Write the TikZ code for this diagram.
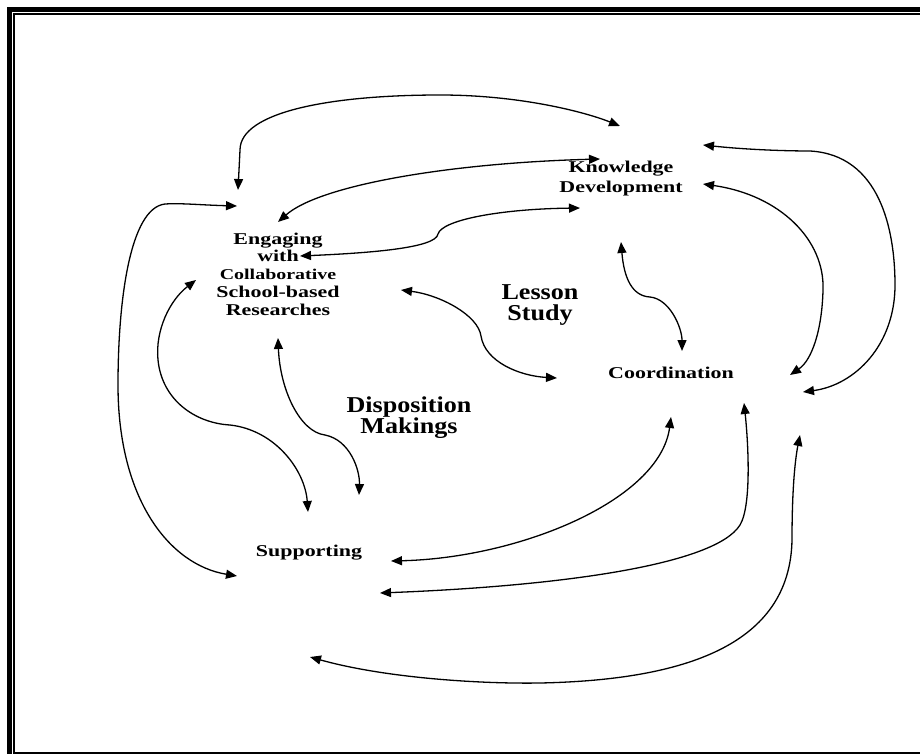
\documentclass[tikz,border=0pt]{standalone}
\usepackage{fontspec}
\usepackage{tikz}
\usetikzlibrary{arrows.meta}
\newfontfamily\nodefont[FakeStretch=1.33]{Liberation Serif}
\newfontfamily\tagfont[FakeStretch=1.15]{Liberation Serif}

\begin{document}
\begin{tikzpicture}[x=1pt,y=-1pt,
    >={Triangle[length=11pt,width=9pt]},
    actor/.style={align=center,inner sep=0pt,font=\nodefont\bfseries\fontsize{16.5}{17.7}\selectfont},
    theme/.style={align=center,inner sep=0pt,font=\tagfont\bfseries\fontsize{22.7}{21}\selectfont},
    link/.style={<->,line width=1.3pt}]
  \useasboundingbox (0,0) rectangle (920,754);
  \draw[line width=5pt] (9.2,754) |- (920,9.2);
  \draw[line width=2pt] (920,752.8) -| (14.3,14.3) -- (920,14.3);

  \node[actor,font=\nodefont\bfseries\fontsize{16.5}{20}\selectfont] (kd) at (621,179) {Knowledge\\Development};
  \node[actor] (eng) at (278,274) {Engaging\\with\\{\fontsize{15}{17.7}\selectfont Collaborative}\\School-based\\Researches};
  \node[actor] (co) at (671,373) {Coordination};
  \node[actor] (sup) at (309,553) {Supporting};
  \node[theme] (ls) at (540,305) {Lesson\\Study};
  \node[theme] (dm) at (409,418) {Disposition\\Makings};

  \draw[link] ([shift={(-40,-84)}]eng.center) -- (240,150) .. controls (240,112) and (330,95) .. (440,95) .. controls (520,95) and (585,112) .. ([shift={(-1,-53)}]kd.center);
  \draw[link] ([shift={(0,-52)}]eng.center) .. controls (320,185) and (450,163) .. ([shift={(-21,-20)}]kd.center);
  \draw[link] ([shift={(22,-18)}]eng.center) .. controls (370,253) and (436,248) .. (438,234) .. controls (442,220) and (500,209) .. ([shift={(-41,29)}]kd.center);
  \draw[link] ([shift={(82,-34)}]kd.center) .. controls (750,150) and (790,151) .. (810,151) .. controls (880,155) and (895,230) .. (895,285) .. controls (895,345) and (855,385) .. ([shift={(132,19)}]co.center);
  \draw[link] ([shift={(82,5)}]kd.center) .. controls (780,195) and (825,240) .. (823,290) .. controls (822,330) and (812,360) .. ([shift={(119,2)}]co.center);
  \draw[link] ([shift={(0,63)}]kd.center) .. controls (624,278) and (632,296) .. (650,297) .. controls (670,299) and (682,328) .. ([shift={(11,-22)}]co.center);
  \draw[link] ([shift={(123,16)}]eng.center) .. controls (440,295) and (478,315) .. (481,336) .. controls (485,362) and (520,376) .. ([shift={(-114,5)}]co.center);
  \draw[link] ([shift={(-41,-68)}]eng.center) .. controls (200,205) and (182,203) .. (165,204) .. controls (130,208) and (118,300) .. (118,385) .. controls (118,500) and (170,565) .. ([shift={(-72,23)}]sup.center);
  \draw[link] ([shift={(-82,6)}]eng.center) .. controls (170,300) and (155,330) .. (158,360) .. controls (162,400) and (195,423) .. (230,425) .. controls (275,430) and (305,470) .. ([shift={(-1,-41)}]sup.center);
  \draw[link] ([shift={(0,64)}]eng.center) .. controls (280,390) and (300,432) .. (325,435) .. controls (350,440) and (360,470) .. ([shift={(50,-58)}]sup.center);
  \draw[link] ([shift={(82,8)}]sup.center) .. controls (520,558) and (660,500) .. ([shift={(0,44)}]co.center);
  \draw[link] ([shift={(71,40)}]sup.center) .. controls (560,586) and (715,565) .. (740,525) .. controls (752,505) and (748,440) .. ([shift={(73,30)}]co.center);
  \draw[link] ([shift={(1,104)}]sup.center) .. controls (385,678) and (480,684) .. (540,683) .. controls (685,680) and (790,645) .. (792,540) .. controls (792,490) and (795,460) .. ([shift={(129,62)}]co.center);
\end{tikzpicture}
\end{document}
